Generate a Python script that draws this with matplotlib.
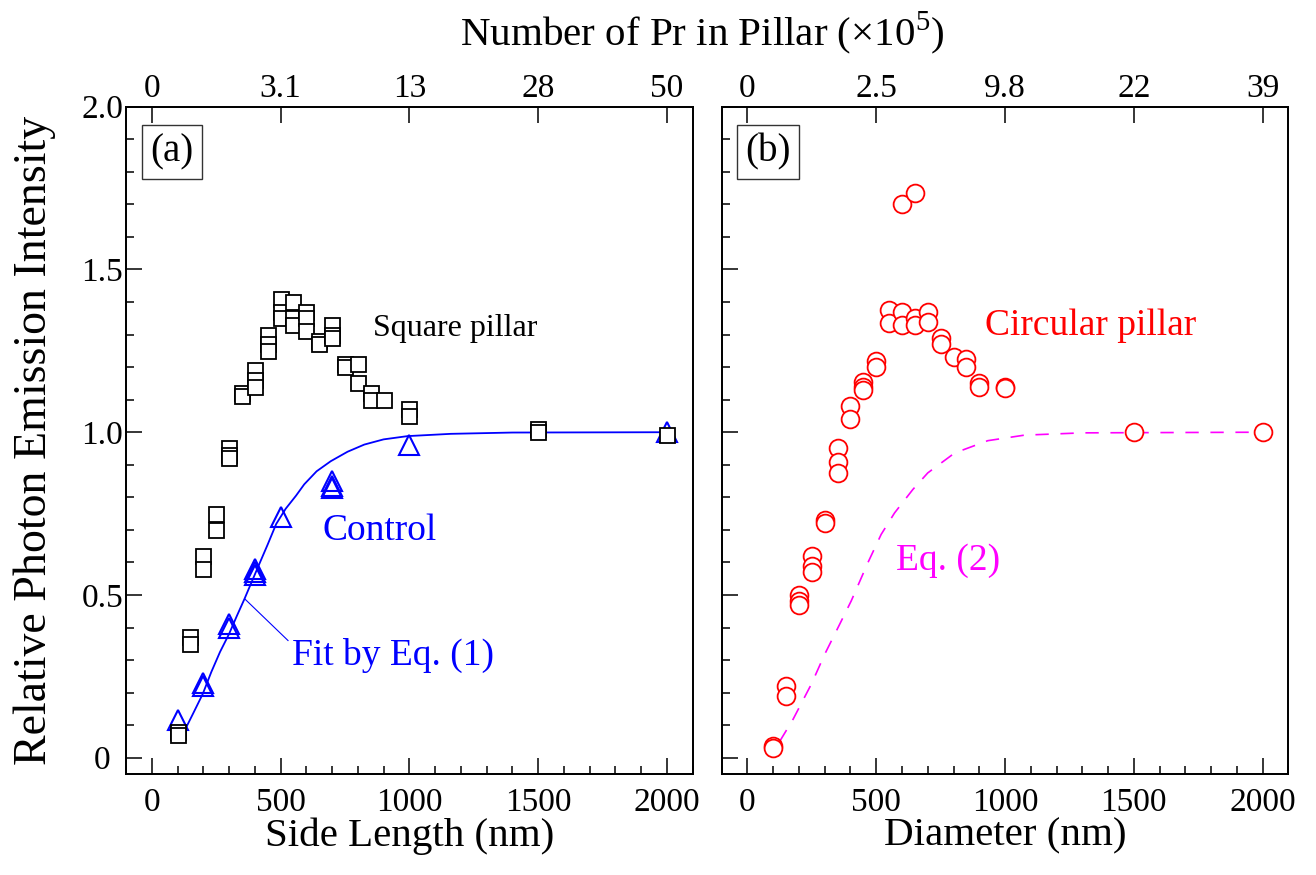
import matplotlib
matplotlib.use("Agg")
import matplotlib.pyplot as plt
from matplotlib.ticker import MultipleLocator

plt.rcParams['font.family'] = ['Liberation Serif', 'DejaVu Serif']
plt.rcParams['mathtext.fontset'] = 'custom'
plt.rcParams['mathtext.rm'] = 'Liberation Serif'

# ---------------- data ----------------
# panel (a): square pillars
sq_x = [100, 100, 150, 150, 200, 200, 250, 250, 300, 300, 300, 350, 350,
        400, 400, 400, 450, 450, 450, 500, 500, 500, 550, 550, 550,
        600, 600, 600, 650, 650, 700, 700, 700, 750, 750, 800, 800,
        850, 850, 900, 1000, 1000, 1500, 1500, 2000]
sq_y = [0.08, 0.07, 0.37, 0.35, 0.62, 0.58, 0.75, 0.70, 0.95, 0.93, 0.92, 1.12, 1.11,
        1.19, 1.16, 1.14, 1.30, 1.27, 1.25, 1.41, 1.37, 1.35, 1.40, 1.35, 1.33,
        1.37, 1.35, 1.31, 1.28, 1.27, 1.33, 1.30, 1.29, 1.21, 1.20, 1.21, 1.15,
        1.12, 1.10, 1.10, 1.07, 1.05, 1.01, 1.00, 0.99]

# panel (a): control
tri_x = [100, 200, 200, 300, 300, 400, 400, 400, 500, 700, 700, 700, 1000, 2000]
tri_y = [0.115, 0.23, 0.22, 0.41, 0.40, 0.58, 0.57, 0.56, 0.74, 0.85, 0.835, 0.83, 0.96, 1.00]

# panel (a): fit by Eq. (1)
fit_x = [131, 160, 198, 231, 265, 300, 330, 360, 412, 450, 483, 520, 560, 592,
         640, 695, 760, 825, 900, 993, 1161, 1400, 2000]
fit_y = [0.089, 0.135, 0.196, 0.263, 0.325, 0.38, 0.435, 0.488, 0.585, 0.655, 0.718,
         0.765, 0.805, 0.84, 0.88, 0.911, 0.94, 0.962, 0.978, 0.988, 0.995, 0.999, 1.0]

# panel (b): circular pillars
cir_x = [100, 100, 150, 150, 200, 200, 200, 250, 250, 250, 300, 300,
         350, 350, 350, 400, 400, 450, 450, 450, 500, 500, 550, 550,
         600, 600, 600, 650, 650, 650, 700, 700, 750, 750, 800, 850, 850,
         900, 900, 1000, 1000, 1500, 2000]
cir_y = [0.035, 0.03, 0.22, 0.19, 0.50, 0.48, 0.47, 0.62, 0.59, 0.57, 0.73, 0.72,
         0.95, 0.91, 0.875, 1.08, 1.04, 1.155, 1.14, 1.13, 1.22, 1.20, 1.375, 1.335,
         1.70, 1.37, 1.33, 1.735, 1.35, 1.33, 1.37, 1.34, 1.29, 1.27, 1.23, 1.225, 1.20,
         1.15, 1.14, 1.14, 1.135, 1.00, 1.00]

# panel (b): Eq. (2)
eq2_x = [125, 177, 248, 300, 358, 403, 468, 519, 571, 642, 700, 804, 933, 1075, 1300, 2000]
eq2_y = [0.05, 0.118, 0.226, 0.318, 0.41, 0.482, 0.60, 0.686, 0.752, 0.824, 0.875,
         0.936, 0.974, 0.991, 0.998, 1.0]

x_ticks = [0, 500, 1000, 1500, 2000]
y_ticks = [0, 0.5, 1.0, 1.5, 2.0]
y_ticklabels = ['0', '0.5', '1.0', '1.5', '2.0']
top_labels_a = ['0', '3.1', '13', '28', '50']
top_labels_b = ['0', '2.5', '9.8', '22', '39']

# ---------------- figure ----------------
W, H = 1316, 875
fig = plt.figure(figsize=(W / 100, H / 100), dpi=100)
axa = fig.add_axes([126 / W, 101 / H, 566.7 / W, 667.3 / H])
axb = fig.add_axes([721.7 / W, 101 / H, 566.7 / W, 667.3 / H])

TICK_FS = 24
LABEL_FS = 29.5


def style(ax, top_labels, ylabels=True):
    ax.set_xlim(-100, 2100)
    ax.set_ylim(-0.05, 2.0)
    ax.set_xticks(x_ticks)
    ax.xaxis.set_minor_locator(MultipleLocator(100))
    ax.set_yticks(y_ticks)
    ax.yaxis.set_minor_locator(MultipleLocator(0.1))
    ax.tick_params(which='both', direction='in', top=False, right=False,
                   labelsize=TICK_FS, width=1.1)
    ax.tick_params(which='major', length=11.5)
    ax.tick_params(which='minor', length=5.8)
    ax.tick_params(axis='x', pad=10)
    if ylabels:
        ax.set_yticklabels(y_ticklabels)
        ax.tick_params(axis='y', pad=17)
        for lab in ax.get_yticklabels():
            lab.set_horizontalalignment('center')
    else:
        ax.set_yticklabels([])
    for s in ax.spines.values():
        s.set_linewidth(1.3)
    axt = ax.twiny()
    axt.set_xlim(-100, 2100)
    axt.set_xticks(x_ticks)
    axt.set_xticklabels(top_labels)
    axt.tick_params(direction='in', length=11.5, width=1.1, labelsize=TICK_FS, pad=2)
    for s in axt.spines.values():
        s.set_linewidth(1.3)
    return axt


style(axa, top_labels_a, True)
style(axb, top_labels_b, False)

# panel (a)
axa.plot(fit_x, fit_y, color='#0000ff', lw=1.3, zorder=2)
axa.plot(tri_x, tri_y, linestyle='none', marker='^', ms=14, mfc='none',
         mec='#0000ff', mew=1.5, zorder=3)
axa.plot(sq_x, sq_y, linestyle='none', marker='s', ms=10.8, mfc='white',
         mec='black', mew=1.3, zorder=4)
axa.plot([361, 529], [0.488, 0.36], color='#0000ff', lw=0.8, zorder=2)

axa.text(857, 1.32, 'Square pillar', fontsize=23, color='black', va='center')
axa.text(663, 0.697, 'Control', fontsize=27, color='#0000ff', va='center')
axa.text(546, 0.314, 'Fit by Eq. (1)', fontsize=27, color='#0000ff', va='center')
axa.text(0.081, 0.932, '(a)', transform=axa.transAxes, fontsize=28,
         ha='center', va='center',
         bbox=dict(boxstyle='square,pad=0.22', fc='white', ec='#333333', lw=1.0))

axa.set_xlabel('Side Length (nm)', fontsize=LABEL_FS, va='center')
axa.xaxis.set_label_coords(0.5, -0.093)
axa.set_ylabel('Relative Photon Emission Intensity', fontsize=33, va='center')
axa.yaxis.set_label_coords(-0.161, 0.5)

# panel (b)
axb.plot(eq2_x, eq2_y, color='#ff00ff', lw=1.2, dashes=(8, 7), zorder=2)
axb.plot(cir_x, cir_y, linestyle='none', marker='o', ms=12.8, mfc='white',
         mec='#ff0000', mew=1.3, zorder=4)
axb.text(921, 1.326, 'Circular pillar', fontsize=27, color='#ff0000', va='center')
axb.text(576, 0.605, 'Eq. (2)', fontsize=27, color='#ff00ff', va='center')
axb.text(0.082, 0.932, '(b)', transform=axb.transAxes, fontsize=28,
         ha='center', va='center',
         bbox=dict(boxstyle='square,pad=0.22', fc='white', ec='#333333', lw=1.0))
axb.set_xlabel('Diameter (nm)', fontsize=LABEL_FS, va='center')
axb.xaxis.set_label_coords(0.5, -0.093)

fig.text(702 / W, 1 - 33 / H, r'Number of Pr in Pillar ($\times$10$^{5}$)',
         fontsize=LABEL_FS, ha='center', va='center')

fig.savefig('out.png', dpi=100)
